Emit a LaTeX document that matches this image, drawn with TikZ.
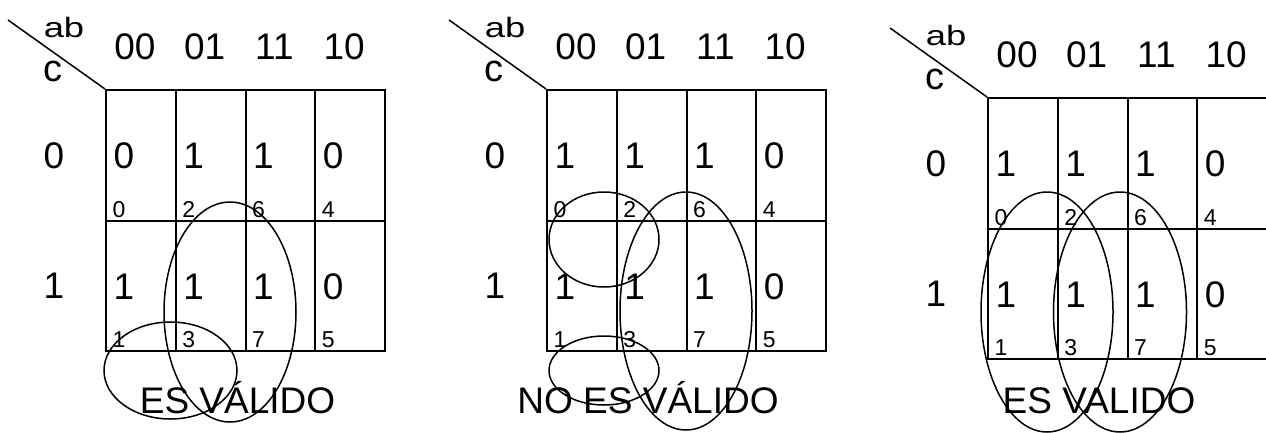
\documentclass[tikz,border=0pt]{standalone}
\usepackage{fontspec}
\setmainfont{Liberation Sans}
\tikzset{
  kcell/.style={draw, line width=2pt, minimum width=69.75pt, minimum height=130.5pt, inner sep=0pt, anchor=north west},
  bigtxt/.style={inner sep=0pt, font=\fontsize{37}{40}\selectfont},
  valtxt/.style={bigtxt, anchor=west},
  idxtxt/.style={inner sep=0pt, font=\fontsize{23}{25}\selectfont, anchor=base west},
  abtxt/.style={inner sep=0pt, font=\fontsize{28}{30}\selectfont, xscale=1.3, anchor=base west},
  ctxt/.style={inner sep=0pt, font=\fontsize{38}{40}\selectfont, anchor=base west},
  bottomtxt/.style={inner sep=0pt, font=\fontsize{37}{40}\selectfont, anchor=base},
  diag/.style={line width=1.5pt},
  grp/.style={line width=1.5pt},
}
% #1 prefix, #2 row-0 value/index list, #3 row-1 value/index list, #4 clip x for "ab"
\newcommand\kmap[4]{%
  \foreach \v/\w [count=\i from 0] in {#2} {
    \node[kcell] (#1a\i) at (105+69.75*\i, 89) {};
    \node[valtxt] (#1va\i) at ([xshift=8.5pt, yshift=-67pt]#1a\i.north west) {\v};
    \node[idxtxt] (#1ia\i) at ([xshift=7.5pt, yshift=-128pt]#1a\i.north west) {\w};
  }
  \foreach \v/\w [count=\i from 0] in {#3} {
    \node[kcell] (#1b\i) at (105+69.75*\i, 219.5) {};
    \node[valtxt] (#1vb\i) at ([xshift=8.5pt, yshift=-67pt]#1b\i.north west) {\v};
    \node[idxtxt] (#1ib\i) at ([xshift=7.5pt, yshift=-128pt]#1b\i.north west) {\w};
  }
  \foreach \h [count=\i from 0] in {00,01,11,10} {
    \node[bigtxt] (#1h\i) at (135+69.7*\i, 47) {\h};
  }
  \node[bigtxt] (#1r0) at (54, 156) {0};
  \node[bigtxt] (#1r1) at (54, 286) {1};
  \begin{scope}
    \clip (0,0) rectangle (#4,60);
    \node[abtxt] (#1ab) at (43.5, 37.5) {ab};
  \end{scope}
  \node[ctxt] (#1c) at (43.5, 81) {c};
  \coordinate (#1d) at (8,20);
  \draw[diag] (#1d) -- (#1a0.north west);
}
\begin{document}
\begin{tikzpicture}[x=1pt, y=-1pt]
  \useasboundingbox (0,0) rectangle (1266,432);
  \begin{scope}
    \kmap{p}{0/0,1/2,1/6,0/4}{1/1,1/3,1/7,0/5}{200}
  \end{scope}
  \begin{scope}[shift={(441,0)}]
    \kmap{q}{1/0,1/2,1/6,0/4}{1/1,1/3,1/7,0/5}{200}
  \end{scope}
  \begin{scope}[shift={(882,8)}]
    \kmap{s}{1/0,1/2,1/6,0/4}{1/1,1/3,1/7,0/5}{83}
  \end{scope}
  \node[bottomtxt] (t1) at (237.5, 413) {ES VÁLIDO};
  \node[bottomtxt] (t2) at (648, 413) {NO ES VÁLIDO};
  \node[bottomtxt] (t3) at (1099, 413) {ES VALIDO};
  % groupings
  \draw[grp] (230,312) ellipse [x radius=66pt, y radius=110pt];
  \draw[grp] (170.5,370.5) ellipse [x radius=66.5pt, y radius=48.5pt];
  \draw[grp] (604,239.5) ellipse [x radius=55pt, y radius=47.5pt];
  \draw[grp] (686,311) ellipse [x radius=66pt, y radius=119pt];
  \draw[grp] (604,370.5) ellipse [x radius=55pt, y radius=34.5pt];
  \draw[grp] (1047,312) ellipse [x radius=66pt, y radius=120pt];
  \draw[grp] (1120,312) ellipse [x radius=66.5pt, y radius=120pt];
\end{tikzpicture}
\end{document}
